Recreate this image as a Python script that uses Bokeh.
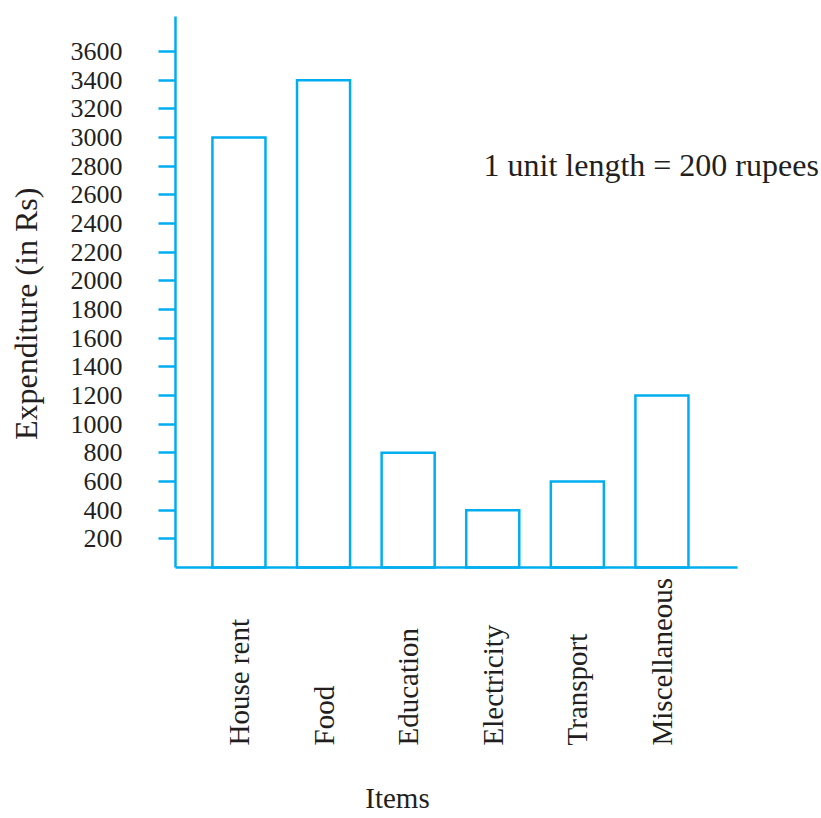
import math
from bokeh.plotting import figure
from bokeh.models import Range1d, FixedTicker, Label, ColumnDataSource, LinearAxis
from bokeh.embed import file_html
from bokeh.resources import INLINE

items = ["House rent", "Food", "Education", "Electricity", "Transport", "Miscellaneous"]
expenditure = [3000, 3400, 800, 400, 600, 1200]
y_ticks = [200, 400, 600, 800, 1000, 1200, 1400, 1600, 1800, 2000,
           2200, 2400, 2600, 2800, 3000, 3200, 3400, 3600]
y_title = "Expenditure (in Rs)"
x_title = "Items"
note = "1 unit length = 200 rupees"

CYAN = "#00AEEF"
FONT = "Liberation Serif"
TEXT = "#231f20"

positions = list(range(1, len(items) + 1))
src = ColumnDataSource(dict(x=positions, top=expenditure))

X0, X1 = 0.25, 6.89      # extent of the drawn x axis (category units)
Y0, Y1 = 0, 3845         # extent of the drawn y axis (rupees)

p = figure(width=821, height=818, output_backend="svg", toolbar_location=None,
           x_range=Range1d(-1.8186, 7.886), y_range=Range1d(-1751.6, 3956.8),
           x_axis_location=None, y_axis_location=None,
           min_border=0, min_border_left=0, min_border_right=0,
           min_border_top=0, min_border_bottom=0)
p.outline_line_color = None
p.grid.visible = False
p.background_fill_color = "white"
p.border_fill_color = "white"

p.vbar(x="x", top="top", bottom=0, width=0.627, source=src,
       fill_color="white", line_color=CYAN, line_width=2.5, line_join="miter")

# y axis
ya = LinearAxis(fixed_location=X0, bounds=(Y0, Y1))
ya.ticker = FixedTicker(ticks=y_ticks)
ya.minor_tick_line_color = None
ya.major_tick_in = 0
ya.major_tick_out = 17
ya.major_tick_line_color = CYAN
ya.major_tick_line_width = 2.5
ya.axis_line_color = CYAN
ya.axis_line_width = 2.5
ya.major_label_standoff = 36
ya.major_label_text_font = FONT
ya.major_label_text_font_size = "26px"
ya.major_label_text_color = TEXT
p.add_layout(ya, "left")

# x axis
xa = LinearAxis(fixed_location=Y0, bounds=(X0, X1))
xa.ticker = FixedTicker(ticks=[])
xa.minor_tick_line_color = None
xa.major_tick_line_color = None
xa.major_label_text_font_size = "0px"
xa.axis_line_color = CYAN
xa.axis_line_width = 2.5
p.add_layout(xa, "below")

# category labels
for xi, name in zip(positions, items):
    p.add_layout(Label(x=xi, y=-1242, text=name, angle=math.pi / 2,
                       text_align="left", text_baseline="middle",
                       text_font=FONT, text_font_size="29px", text_color=TEXT))

p.add_layout(Label(x=-1.5226, y=1770, text=y_title, angle=math.pi / 2,
                   text_align="center", text_baseline="middle",
                   text_font=FONT, text_font_size="32px", text_color=TEXT))
p.add_layout(Label(x=2.874, y=-1612, text=x_title,
                   text_align="center", text_baseline="middle",
                   text_font=FONT, text_font_size="29px", text_color=TEXT))
p.add_layout(Label(x=3.891, y=2812, text=note,
                   text_align="left", text_baseline="middle",
                   text_font=FONT, text_font_size="32px", text_color=TEXT))

open("out.html", "w").write(file_html(p, INLINE))
